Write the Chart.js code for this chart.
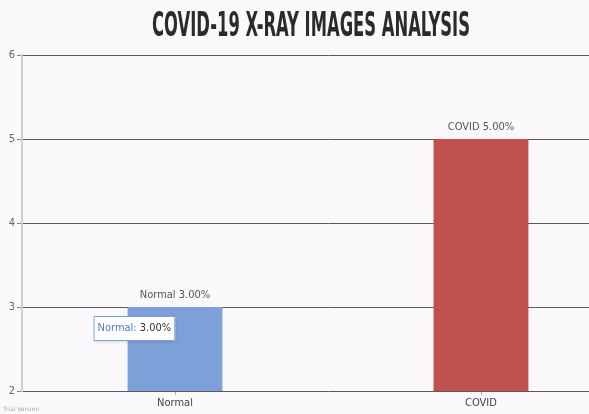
<!DOCTYPE html>
<html>
<head>
<meta charset="utf-8">
<script src="https://cdn.jsdelivr.net/npm/chart.js@4"></script>
<style>
    html, body { margin: 0; padding: 0; background: #fcf9fc; }
    #wrap { position: relative; width: 589px; height: 414px; overflow: hidden; }
</style>
</head>
<body>
<!-- the plot runs on past the right edge of the shot, so the canvas is wider and clipped -->
<div id="wrap"><canvas id="xray" width="634" height="414"></canvas></div>
<script>
var categories = ["Normal", "COVID"]
var values = [3, 5]
var barColors = ["#7ea0d8", "#c0504d"]
var yTicks = [2, 3, 4, 5, 6]
var chartTitle = "COVID-19 X-RAY IMAGES ANALYSIS"
var hoverIndex = 0
var narrow = "'DejaVu Sans Condensed', 'Liberation Sans Narrow', sans-serif"

function pct(v) {
    return v.toFixed(2) + "%"
}

// title, squeezed like the original condensed face
var titlePlugin = {
    id: "squeezedTitle",
    afterDraw: function (chart) {
        var ctx = chart.ctx
        ctx.save()
        ctx.font = "bold 34px " + narrow
        var w = ctx.measureText(chartTitle).width
        var sx = 318 / w
        ctx.translate(311, 27)
        ctx.scale(sx, 1)
        ctx.fillStyle = "#2b2b2b"
        ctx.textAlign = "center"
        ctx.textBaseline = "middle"
        ctx.fillText(chartTitle, 0, 0)
        ctx.restore()

        ctx.save()
        ctx.font = "6px 'DejaVu Sans', sans-serif"
        ctx.fillStyle = "#aaa"
        ctx.textBaseline = "middle"
        ctx.fillText("Trial Version", 3, 409)
        ctx.restore()
    },
}

// "Normal 3.00%" labels above the bars
var labelPlugin = {
    id: "barLabels",
    afterDatasetsDraw: function (chart) {
        var ctx = chart.ctx
        var meta = chart.getDatasetMeta(0)
        ctx.save()
        ctx.font = "11px " + narrow
        ctx.fillStyle = "#555"
        ctx.textAlign = "center"
        ctx.textBaseline = "bottom"
        meta.data.forEach(function (bar, i) {
            ctx.fillText(categories[i] + " " + pct(values[i]), bar.x, bar.y - 6)
        })
        ctx.restore()
    },
}

// the frozen hover tooltip over the Normal bar
var tipPlugin = {
    id: "frozenTip",
    afterDraw: function (chart) {
        var ctx = chart.ctx
        var bar = chart.getDatasetMeta(0).data[hoverIndex]
        var yScale = chart.scales.y
        ctx.save()
        ctx.font = "11px " + narrow
        var a = categories[hoverIndex] + ":"
        var b = " " + pct(values[hoverIndex])
        var wa = ctx.measureText(a).width
        var wb = ctx.measureText(b).width
        var w = wa + wb + 8
        var h = 25
        var x = bar.x - bar.width / 2 - 34
        var y = yScale.getPixelForValue(values[hoverIndex]) + 9
        ctx.shadowColor = "rgba(0,0,0,0.15)"
        ctx.shadowBlur = 3
        ctx.shadowOffsetX = 1
        ctx.shadowOffsetY = 1
        ctx.fillStyle = "#ffffff"
        ctx.fillRect(x, y, w, h)
        ctx.shadowColor = "transparent"
        ctx.strokeStyle = barColors[hoverIndex]
        ctx.lineWidth = 1
        ctx.strokeRect(x + 0.5, y + 0.5, w - 1, h - 1)
        ctx.textBaseline = "middle"
        ctx.fillStyle = "#4f7dc0"
        ctx.fillText(a, x + 4, y + h / 2)
        ctx.fillStyle = "#333"
        ctx.fillText(b, x + 4 + wa, y + h / 2)
        ctx.restore()
    },
}

new Chart("xray", {
    type: "bar",
    data: {
        labels: categories,
        datasets: [
            {
                data: values,
                backgroundColor: barColors,
                barPercentage: 0.31,
                categoryPercentage: 1,
            },
        ],
    },
    options: {
        responsive: false,
        animation: false,
        events: [],
        layout: { padding: { top: 55, right: 0, left: 0, bottom: 0 } },
        plugins: {
            legend: { display: false },
            tooltip: { enabled: false },
            title: { display: false },
        },
        scales: {
            x: {
                grid: {
                    drawOnChartArea: false,
                    offset: false,
                    tickLength: 4,
                    tickColor: "#aaa",
                },
                border: { display: false },
                ticks: {
                    color: "#444",
                    padding: 2,
                    font: { family: narrow, size: 11 },
                },
                afterFit: function (s) { s.height = 23 },
            },
            y: {
                min: yTicks[0],
                max: yTicks[yTicks.length - 1],
                afterBuildTicks: function (s) {
                    s.ticks = yTicks.map(function (v) { return { value: v } })
                },
                grid: {
                    color: "#5a5a5a",
                    lineWidth: 1,
                    tickLength: 5,
                    tickColor: "#888",
                },
                border: { color: "#cfcfcf", width: 2 },
                ticks: {
                    color: "#666",
                    padding: 2,
                    font: { family: narrow, size: 11 },
                },
                afterFit: function (s) { s.width = 22 },
            },
        },
    },
    plugins: [titlePlugin, labelPlugin, tipPlugin],
})
</script>
</body>
</html>
